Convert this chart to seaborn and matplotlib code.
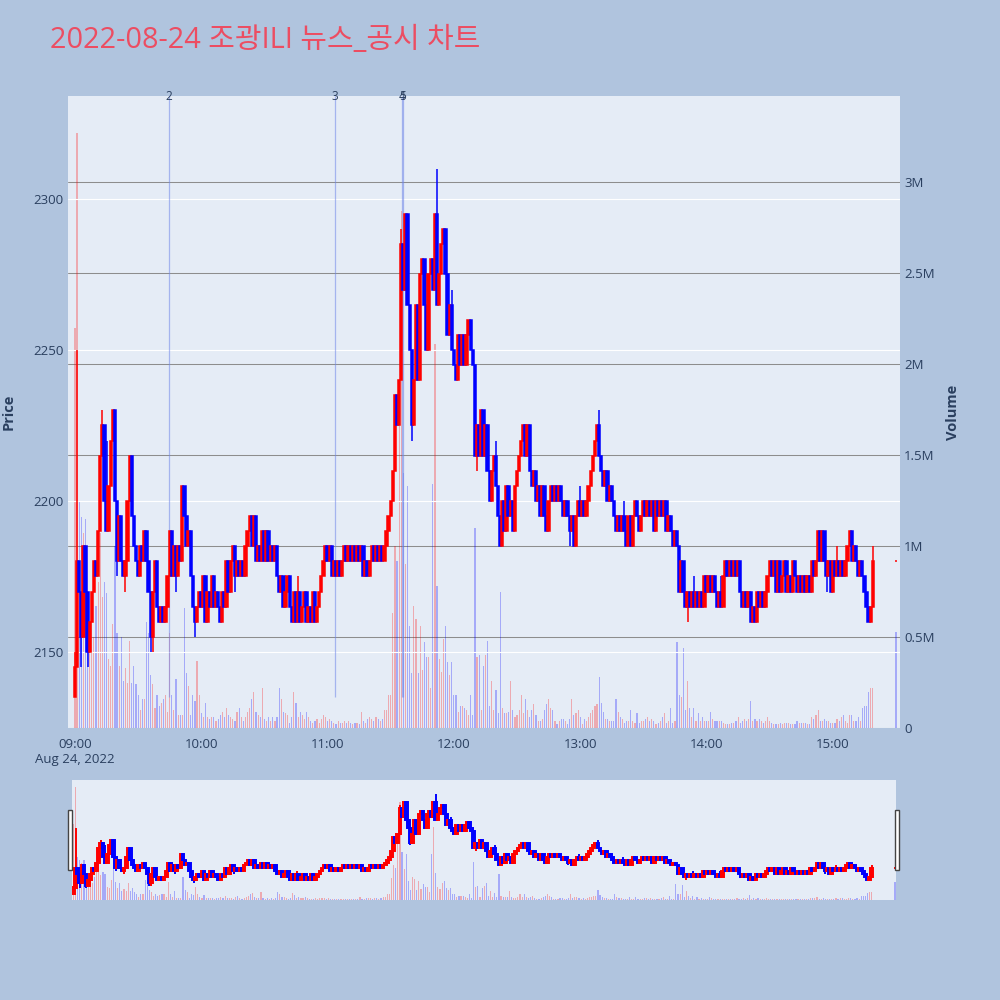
import numpy as np
import pandas as pd
import matplotlib
matplotlib.use('Agg')
import matplotlib.pyplot as plt
import matplotlib.transforms as mtransforms
from matplotlib.patches import Rectangle
from matplotlib.ticker import FuncFormatter
import seaborn as sns

# ---- data ----
title = '2022-08-24 조광ILI 뉴스_공시 차트'

first_open = 2135
# 1-minute closes, 09:00 .. 15:19
closes = [
    2145, 2180, 2170, 2155, 2185, 2170, 2150, 2160, 2170, 2180,
    2175, 2190, 2215, 2225, 2200, 2190, 2205, 2220, 2230, 2200,
    2180, 2195, 2180, 2175, 2180, 2200, 2215, 2195, 2185, 2180,
    2175, 2185, 2180, 2190, 2180, 2170, 2155, 2170, 2180, 2165,
    2160, 2165, 2160, 2165, 2175, 2190, 2175, 2185, 2175, 2185,
    2180, 2205, 2195, 2185, 2190, 2175, 2165, 2160, 2165, 2170,
    2165, 2175, 2160, 2170, 2165, 2175, 2165, 2170, 2165, 2160,
    2170, 2165, 2180, 2170, 2180, 2185, 2175, 2180, 2175, 2180,
    2175, 2185, 2190, 2195, 2185, 2195, 2180, 2185, 2180, 2190,
    2180, 2190, 2180, 2185, 2180, 2185, 2175, 2170, 2175, 2165,
    2170, 2175, 2165, 2160, 2170, 2160, 2170, 2160, 2165, 2170,
    2160, 2165, 2160, 2170, 2160, 2165, 2170, 2175, 2180, 2185,
    2180, 2185, 2175, 2180, 2175, 2180, 2175, 2180, 2185, 2180,
    2185, 2180, 2185, 2180, 2185, 2180, 2185, 2175, 2180, 2175,
    2180, 2185, 2180, 2185, 2180, 2185, 2180, 2185, 2190, 2195,
    2200, 2210, 2235, 2225, 2240, 2285, 2270, 2295, 2265, 2250,
    2225, 2240, 2265, 2240, 2275, 2280, 2265, 2250, 2275, 2280,
    2270, 2295, 2265, 2275, 2285, 2290, 2275, 2255, 2265, 2250,
    2245, 2240, 2255, 2245, 2255, 2245, 2255, 2260, 2250, 2245,
    2215, 2225, 2215, 2230, 2215, 2225, 2210, 2200, 2210, 2215,
    2205, 2195, 2185, 2200, 2190, 2205, 2195, 2200, 2190, 2205,
    2210, 2215, 2220, 2225, 2215, 2225, 2210, 2205, 2210, 2200,
    2205, 2195, 2205, 2195, 2190, 2200, 2205, 2200, 2205, 2200,
    2205, 2200, 2195, 2200, 2195, 2190, 2195, 2185, 2195, 2200,
    2195, 2200, 2195, 2200, 2205, 2210, 2215, 2220, 2225, 2215,
    2210, 2205, 2210, 2200, 2205, 2200, 2195, 2190, 2195, 2190,
    2195, 2190, 2185, 2195, 2185, 2195, 2200, 2195, 2190, 2195,
    2200, 2195, 2200, 2195, 2200, 2190, 2200, 2195, 2200, 2195,
    2200, 2190, 2195, 2190, 2185, 2190, 2185, 2170, 2180, 2170,
    2165, 2170, 2165, 2170, 2165, 2170, 2165, 2170, 2165, 2175,
    2170, 2175, 2170, 2175, 2170, 2165, 2170, 2165, 2175, 2180,
    2175, 2180, 2175, 2180, 2175, 2180, 2170, 2165, 2170, 2165,
    2170, 2160, 2165, 2160, 2170, 2165, 2170, 2165, 2170, 2175,
    2180, 2175, 2180, 2170, 2180, 2170, 2175, 2180, 2170, 2175,
    2170, 2180, 2175, 2170, 2175, 2170, 2175, 2170, 2175, 2170,
    2180, 2175, 2180, 2190, 2180, 2190, 2180, 2175, 2180, 2170,
    2180, 2175, 2180, 2175, 2180, 2175, 2180, 2185, 2190, 2180,
    2185, 2180, 2175, 2180, 2175, 2170, 2165, 2160, 2165, 2180,
]
close_1530 = 2180

# wicks that stick out of the bodies (minute index -> price)
wick_high = {0: 2150, 1: 2250, 13: 2230, 15: 2220, 106: 2175, 155: 2290,
             157: 2295, 172: 2310, 179: 2270, 200: 2220, 240: 2205,
             249: 2230, 261: 2200, 294: 2175, 307: 2175, 362: 2185, 379: 2185}
wick_low = {0: 2135, 3: 2145, 6: 2145, 20: 2175, 24: 2170, 36: 2150,
            37: 2150, 48: 2170, 57: 2155, 70: 2160, 76: 2170, 160: 2220,
            191: 2210, 235: 2185, 291: 2160, 357: 2170, 378: 2160}

# volume per minute, thousands of shares
volumes_k = [
    2200, 3270, 1250, 1160, 1070, 1150, 420, 420, 580, 500,
    670, 800, 1070, 720, 800, 740, 380, 340, 570, 1000,
    520, 340, 500, 260, 330, 250, 480, 250, 340, 240,
    180, 100, 160, 160, 580, 520, 290, 240, 110, 180,
    120, 140, 160, 180, 90, 520, 180, 100, 270, 70,
    70, 70, 660, 300, 230, 70, 180, 150, 370, 180,
    80, 60, 140, 60, 50, 60, 60, 40, 50, 70,
    90, 60, 110, 70, 60, 50, 40, 90, 110, 60,
    40, 60, 90, 110, 160, 200, 90, 70, 60, 220,
    50, 40, 60, 40, 60, 40, 60, 220, 160, 90,
    80, 70, 30, 60, 200, 140, 60, 90, 70, 50,
    90, 60, 40, 30, 40, 50, 30, 50, 70, 60,
    40, 50, 40, 30, 20, 40, 30, 30, 40, 30,
    40, 30, 20, 30, 30, 20, 90, 40, 30, 50,
    60, 50, 40, 60, 50, 40, 50, 100, 100, 180,
    180, 630, 1000, 920, 1750, 2840, 1400, 900, 1330, 560,
    300, 670, 600, 300, 560, 320, 470, 390, 390, 220,
    1340, 2110, 780, 380, 310, 490, 560, 360, 290, 360,
    180, 180, 90, 120, 120, 110, 100, 70, 180, 70,
    1100, 390, 400, 100, 340, 400, 480, 120, 260, 100,
    210, 80, 750, 110, 80, 80, 90, 260, 100, 60,
    70, 100, 180, 80, 160, 100, 60, 100, 130, 70,
    40, 40, 50, 100, 130, 160, 110, 100, 40, 20,
    40, 50, 50, 40, 20, 50, 160, 70, 80, 100,
    60, 20, 50, 40, 60, 80, 100, 120, 130, 280,
    140, 90, 50, 50, 40, 40, 40, 160, 90, 60,
    50, 30, 40, 40, 100, 40, 30, 80, 30, 40,
    40, 50, 60, 40, 50, 40, 20, 30, 40, 60,
    80, 30, 40, 110, 30, 40, 470, 180, 170, 440,
    100, 260, 110, 60, 110, 40, 80, 40, 60, 40,
    40, 40, 90, 50, 40, 40, 40, 40, 30, 20,
    20, 20, 30, 30, 40, 60, 30, 40, 50, 40,
    50, 150, 40, 50, 40, 50, 40, 30, 40, 60,
    40, 30, 20, 20, 20, 30, 20, 30, 30, 30,
    20, 20, 20, 40, 30, 30, 30, 30, 20, 20,
    60, 50, 70, 100, 40, 40, 50, 40, 40, 30,
    30, 30, 50, 40, 60, 70, 40, 30, 70, 70,
    40, 40, 60, 40, 110, 120, 120, 200, 220, 220,
]
volume_1530_k = 530

# news / disclosure markers (minutes after 09:00)
news_minutes = [44.5, 123.5, 155.3, 155.8]
news_labels = ['2', '3', '4', '5']

hour_labels = ['09:00\nAug 24, 2022', '10:00', '11:00', '12:00', '13:00', '14:00', '15:00']

# ---- build table ----
minutes = list(range(len(closes))) + [390]
close = closes + [close_1530]
opens = [first_open] + closes[:-1] + [closes[-1]]
df = pd.DataFrame({'minute': minutes, 'open': opens, 'close': close,
                   'volume': [v * 1000 for v in volumes_k + [volume_1530_k]]})
df['body_lo'] = df[['open', 'close']].min(axis=1)
df['body_h'] = (df['close'] - df['open']).abs()
df['high'] = df[['open', 'close']].max(axis=1)
df['low'] = df['body_lo']
for k, v in wick_high.items():
    df.loc[k, 'high'] = v
for k, v in wick_low.items():
    df.loc[k, 'low'] = v
UP, DOWN = '#ff0000', '#0000ff'
df['color'] = np.where(df['close'] >= df['open'], UP, DOWN)
df['vdir'] = np.where(df['close'] > df['open'], 'up', 'down')

# ---- style ----
BG = '#B0C4DE'
PLOT_BG = '#E5ECF6'
TXT = '#2a3f5f'
sns.set_theme(style='darkgrid', rc={'axes.facecolor': PLOT_BG, 'figure.facecolor': BG,
                                    'grid.color': 'white'})
plt.rcParams['font.family'] = ['Open Sans', 'Noto Sans CJK KR', 'DejaVu Sans']

fig = plt.figure(figsize=(10, 10), dpi=100)
fig.patch.set_facecolor(BG)


def draw_candles(a, body_w, lw):
    a.vlines(df['minute'], df['low'], df['high'], colors=df['color'], lw=lw, zorder=2)
    a.bar(df['minute'], df['body_h'], bottom=df['body_lo'], width=body_w,
          color=df['color'], edgecolor=df['color'], linewidth=lw, zorder=3)


def vol_fmt(v, pos):
    if v == 0:
        return '0'
    return f'{v / 1e6:g}M'


# main chart
ax = fig.add_axes([0.068, 0.272, 0.832, 0.632])
axv = ax.twinx()
sns.barplot(data=df, x='minute', y='volume', hue='vdir', palette={'up': UP, 'down': DOWN},
            native_scale=True, dodge=False, width=0.55, alpha=0.28, errorbar=None,
            legend=False, saturation=1, linewidth=0, ax=axv)
draw_candles(ax, 1.1, 1.1)

xlim = (-3.3, 391.9)
ax.set_xlim(*xlim)
ax.set_ylim(2124.8, 2334.1)
axv.set_ylim(0, 3.473e6)

ax.set_zorder(axv.get_zorder() + 1)
ax.patch.set_visible(False)
axv.patch.set_visible(True)
axv.set_facecolor(PLOT_BG)

ax.grid(False)
ax.yaxis.grid(True, color='white', lw=0.8)
axv.grid(False)
axv.yaxis.grid(True, color='#8d8d8d', lw=0.75)
for a in (ax, axv):
    for s in a.spines.values():
        s.set_visible(False)

ax.set_xticks([0, 60, 120, 180, 240, 300, 360])
ax.set_xticklabels(hour_labels)
ax.set_yticks([2150, 2200, 2250, 2300])
axv.set_yticks(np.arange(0, 3.01e6, 0.5e6))
axv.yaxis.set_major_formatter(FuncFormatter(vol_fmt))
ax.tick_params(axis='both', length=0, labelsize=9.5, labelcolor=TXT)
ax.tick_params(axis='x', pad=7)
ax.tick_params(axis='y', pad=3)
axv.tick_params(axis='y', length=0, labelsize=9.5, labelcolor=TXT, pad=3)
ax.set_xlabel('')
axv.set_xlabel('')
ax.set_ylabel('Price', fontsize=10.5, fontweight='bold', color=TXT)
axv.set_ylabel('Volume', fontsize=10.5, fontweight='bold', color=TXT)
ax.yaxis.set_label_coords(-0.0625, 0.5)
axv.yaxis.set_label_coords(1.0553, 0.5)

# news markers
ax.vlines(news_minutes, 2135, 2334.1, colors='#6f86e8', alpha=0.55, lw=0.9, zorder=1)
trans = mtransforms.blended_transform_factory(ax.transData, ax.transAxes)
for m, lab in zip(news_minutes, news_labels):
    ax.text(m, 1.0, lab, transform=trans, ha='center', va='center', fontsize=8.5,
            color=TXT, clip_on=False, zorder=5)

# title
fig.text(0.05, 0.959, title, ha='left', va='center', fontsize=20.8, color='#EC4D62',
         family=['Open Sans', 'Noto Sans CJK KR', 'DejaVu Sans'])

# range slider
axs = fig.add_axes([0.072, 0.10, 0.824, 0.12])
axsv = axs.twinx()
sns.barplot(data=df, x='minute', y='volume', hue='vdir', palette={'up': UP, 'down': DOWN},
            native_scale=True, dodge=False, width=0.55, alpha=0.28, errorbar=None,
            legend=False, saturation=1, linewidth=0, ax=axsv)
draw_candles(axs, 1.3, 1.4)
axs.set_xlim(-0.7, 390.5)
axs.set_ylim(2124.8, 2334.1)
axsv.set_ylim(0, 3.473e6)
axs.set_zorder(axsv.get_zorder() + 1)
axs.patch.set_visible(False)
axsv.patch.set_visible(True)
axsv.set_facecolor(PLOT_BG)
for a in (axs, axsv):
    a.grid(False)
    a.set_xticks([])
    a.set_yticks([])
    a.set_xlabel('')
    a.set_ylabel('')
    for s in a.spines.values():
        s.set_visible(False)

# slider grips
for gx in (0.068, 0.895):
    fig.patches.append(Rectangle((gx, 0.130), 0.004, 0.060, transform=fig.transFigure,
                                 facecolor='white', edgecolor='#444444', lw=1.0, zorder=10))

fig.savefig('out.png', dpi=100, facecolor=fig.get_facecolor())
